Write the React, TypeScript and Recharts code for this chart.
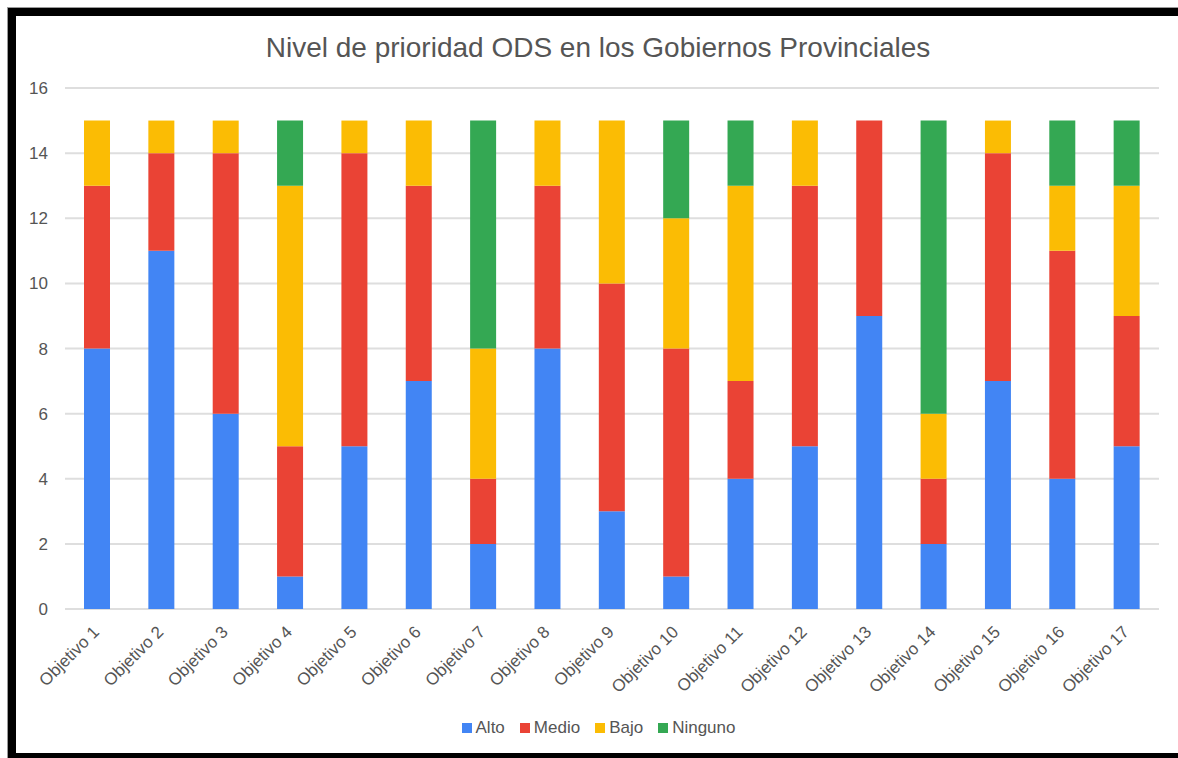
import React from 'react';
import { BarChart, Bar, XAxis, YAxis, CartesianGrid, Legend } from 'recharts';

const objetivos = [
  'Objetivo 1', 'Objetivo 2', 'Objetivo 3', 'Objetivo 4', 'Objetivo 5', 'Objetivo 6',
  'Objetivo 7', 'Objetivo 8', 'Objetivo 9', 'Objetivo 10', 'Objetivo 11', 'Objetivo 12',
  'Objetivo 13', 'Objetivo 14', 'Objetivo 15', 'Objetivo 16', 'Objetivo 17',
];
const alto = [8, 11, 6, 1, 5, 7, 2, 8, 3, 1, 4, 5, 9, 2, 7, 4, 5];
const medio = [5, 3, 8, 4, 9, 6, 2, 5, 7, 7, 3, 8, 6, 2, 7, 7, 4];
const bajo = [2, 1, 1, 8, 1, 2, 4, 2, 5, 4, 6, 2, 0, 2, 1, 2, 4];
const ninguno = [0, 0, 0, 2, 0, 0, 7, 0, 0, 3, 2, 0, 0, 9, 0, 2, 2];
const yTicks = [0, 2, 4, 6, 8, 10, 12, 14, 16];

const SERIES = [
  { key: 'alto', name: 'Alto', color: '#4285F4' },
  { key: 'medio', name: 'Medio', color: '#EA4335' },
  { key: 'bajo', name: 'Bajo', color: '#FBBC04' },
  { key: 'ninguno', name: 'Ninguno', color: '#34A853' },
];

const data = objetivos.map((name, i) => ({
  name,
  alto: alto[i],
  medio: medio[i],
  bajo: bajo[i],
  ninguno: ninguno[i],
}));

const FONT = '"Liberation Sans", Arial, sans-serif';
const TEXT = '#555555';

const XTick = (props: any) => {
  const { x, y, payload } = props;
  const ax = x + 3;
  const ay = y + 22;
  return (
    <text
      x={ax}
      y={ay}
      textAnchor="end"
      fill={TEXT}
      fontSize={17}
      fontFamily={FONT}
      transform={`rotate(-45, ${ax}, ${ay})`}
    >
      {payload.value}
    </text>
  );
};

const LegendContent = () => (
  <div style={{ display: 'flex', justifyContent: 'center', paddingLeft: 37, fontFamily: FONT, fontSize: 17, color: TEXT }}>
    {SERIES.map((s) => (
      <div key={s.key} style={{ display: 'flex', alignItems: 'center', marginRight: 15 }}>
        <span style={{ width: 10, height: 10, background: s.color, display: 'inline-block', marginRight: 4 }} />
        <span>{s.name}</span>
      </div>
    ))}
  </div>
);

export default function App() {
  return (
    <>
      <style>{'html, body { overflow: hidden; background: #fff; }'}</style>
      <div
        style={{
          position: 'fixed',
          left: 8,
          top: 8,
          width: 1180,
          height: 750,
          boxSizing: 'border-box',
          borderLeft: '8px solid #000',
          borderTop: '8px solid #000',
          borderBottom: '5px solid #000',
          outline: '1px solid #9a9a9a',
          background: '#fff',
          overflow: 'hidden',
        }}
      >
        <div
          style={{
            position: 'absolute',
            left: 0,
            top: 18,
            width: 1164,
            textAlign: 'center',
            fontFamily: FONT,
            fontSize: 28,
            lineHeight: '28px',
            color: TEXT,
          }}
        >
          Nivel de prioridad ODS en los Gobiernos Provinciales
        </div>
        <BarChart
          width={1154}
          height={737}
          data={data}
          margin={{ top: 72, right: 11, left: 0, bottom: 1 }}
          barSize={26}
        >
          <CartesianGrid vertical={false} stroke="#dedede" strokeWidth={2} />
          <XAxis
            dataKey="name"
            interval={0}
            tickLine={false}
            axisLine={false}
            tickSize={0}
            height={109}
            tick={<XTick />}
          />
          <YAxis
            domain={[0, 16]}
            ticks={yTicks}
            width={49}
            tickLine={false}
            axisLine={false}
            tickSize={0}
            tickMargin={17}
            tick={{ fill: TEXT, fontSize: 17, fontFamily: FONT }}
          />
          <Legend verticalAlign="bottom" height={34} content={<LegendContent />} />
          {SERIES.map((s) => (
            <Bar key={s.key} dataKey={s.key} name={s.name} stackId="a" fill={s.color} isAnimationActive={false} />
          ))}
        </BarChart>
      </div>
    </>
  );
}
